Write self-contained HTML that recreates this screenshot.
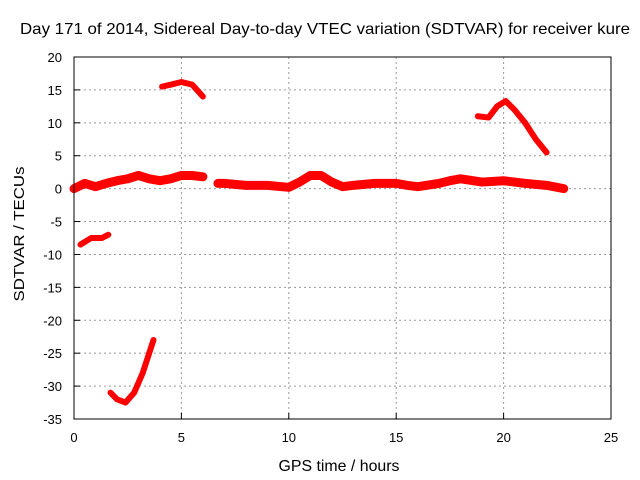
<!DOCTYPE html>
<html><head><meta charset="utf-8"><style>
body{margin:0;background:#fff}
svg{display:block;font-family:"Liberation Sans",sans-serif}
</style></head><body>
<svg id="c" width="640" height="480" viewBox="0 0 640 480">
<text x="325" y="34" text-anchor="middle" font-size="16" textLength="610" lengthAdjust="spacingAndGlyphs">Day 171 of 2014, Sidereal Day-to-day VTEC variation (SDTVAR) for receiver kure</text>
<text x="339" y="471" text-anchor="middle" font-size="16" textLength="121" lengthAdjust="spacingAndGlyphs">GPS time / hours</text>
<text transform="translate(24,234) rotate(-90)" text-anchor="middle" font-size="15" textLength="135" lengthAdjust="spacingAndGlyphs">SDTVAR / TECUs</text>
<g id="grid"></g><g id="marks"></g>
<rect x="74" y="57" width="537" height="362" fill="none" stroke="#000"/>
</svg>
<script>
const xTicks=[0,5,10,15,20,25];
const yTicks=[20,15,10,5,0,-5,-10,-15,-20,-25,-30,-35];
const seg1=[[0,0],[0.5,0.8],[1,0.3],[1.5,0.8],[2,1.2],[2.5,1.5],[3,2],[3.5,1.5],[4,1.2],[4.5,1.5],[5,2],[5.5,2],[6,1.8]];
const seg2=[[6.7,0.8],[7,0.8],[8,0.5],[9,0.5],[10,0.2],[10.5,1],[11,2],[11.5,2],[12,1],[12.5,0.3],[13,0.5],[14,0.8],[15,0.8],[15.5,0.5],[16,0.3],[17,0.8],[17.5,1.2],[18,1.5],[19,1],[20,1.2],[21,0.8],[22,0.5],[22.8,0]];
const seg3=[[0.3,-8.5],[0.8,-7.5],[1.3,-7.5],[1.6,-7]];
const seg4=[[1.7,-31],[2,-32],[2.4,-32.5],[2.8,-31],[3.2,-28],[3.5,-25],[3.7,-23]];
const seg5=[[4.1,15.5],[4.5,15.8],[5,16.2],[5.5,15.8],[6,14]];
const seg6=[[18.8,11],[19.3,10.8],[19.7,12.5],[20.1,13.3],[20.5,12],[21,10],[21.5,7.5],[22,5.5]];
const segments=[seg1,seg2,seg3,seg4,seg5,seg6];
const X=t=>74+t*537/25, Y=v=>57+(20-v)*362/55;
const NS='http://www.w3.org/2000/svg';
const g=document.getElementById('grid'), m=document.getElementById('marks');
function mk(tag,at,p){const e=document.createElementNS(NS,tag);for(const k in at)e.setAttribute(k,at[k]);p.appendChild(e);return e;}
xTicks.forEach(t=>{
 if(t>0&&t<25){const l=mk('line',{x1:X(t),x2:X(t),y1:57,y2:419,stroke:'#999','stroke-dasharray':'2,3'},g);
 
 }
 const tk=mk('line',{x1:X(t),x2:X(t),y1:419,y2:413,stroke:'#000'},g);
 
 
 const tx=mk('text',{x:X(t),y:442,'text-anchor':'middle','font-size':13},g);tx.textContent=t;
 
 
});
yTicks.forEach(v=>{
 if(v<20&&v>-35){const l=mk('line',{x1:74,x2:611,y1:Y(v),y2:Y(v),stroke:'#999','stroke-dasharray':'2,3'},g);
 
 }
 const tk=mk('line',{x1:74,x2:80,y1:Y(v),y2:Y(v),stroke:'#000'},g);
 
 
 const tx=mk('text',{x:62,y:Y(v)+5,'text-anchor':'end','font-size':13},g);tx.textContent=v;
 
 
});
segments.forEach((s,i)=>{
 const w=(i<2)?9:6;
 const p=mk('polyline',{points:s.map(d=>X(d[0])+','+Y(d[1])).join(' '),fill:'none',stroke:'#f00','stroke-width':w,'stroke-linejoin':'round','stroke-linecap':'round'},m);
 
 
});
</script>
</body></html>
